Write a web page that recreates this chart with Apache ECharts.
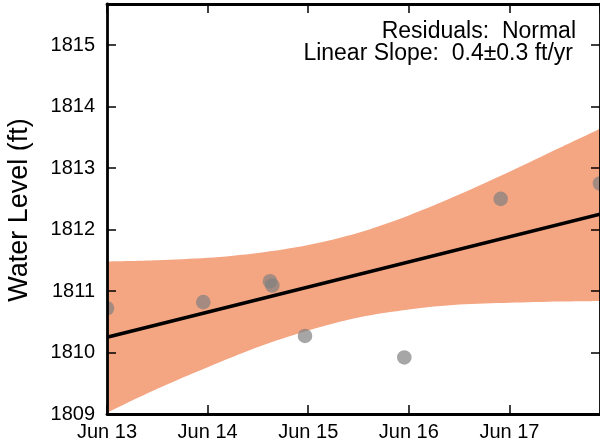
<!DOCTYPE html>
<html>
<head>
<meta charset="utf-8">
<script src="https://cdn.jsdelivr.net/npm/echarts@6/dist/echarts.min.js"></script>
<style>
html,body{margin:0;padding:0;background:#fff;}
#chart{width:600px;height:448px;}
</style>
</head>
<body>
<div id="chart"></div>
<script>
// x values are days since Jun 13 00:00
var xTickLabels = ['Jun 13', 'Jun 14', 'Jun 15', 'Jun 16', 'Jun 17'];
var xMinDay = 0, xMaxDay = 4.9;
var yMin = 1809, yMax = 1815.67;

// observations
var obsDays   = [0.0, 0.957, 1.62, 1.643, 1.968, 2.955, 3.913, 4.9];
var obsLevels = [1810.72, 1810.82, 1811.16, 1811.09, 1810.27, 1809.92, 1812.50, 1812.75];

// linear fit
var fitDays   = [0.0, 4.9];
var fitLevels = [1810.25, 1812.25];

// confidence band
var bandDays  = [0.0, 0.5, 1.0, 1.5, 2.0, 2.5, 3.0, 3.5, 4.0, 4.5, 4.9];
var bandLower = [1809.02, 1809.41, 1809.76, 1810.09, 1810.36, 1810.57, 1810.70, 1810.78, 1810.81, 1810.83, 1810.84];
var bandUpper = [1811.48, 1811.50, 1811.54, 1811.62, 1811.75, 1811.95, 1812.23, 1812.57, 1812.94, 1813.33, 1813.64];

var annotation1 = 'Residuals:  Normal';
var annotation2 = 'Linear Slope:  0.4\u00b10.3 ft/yr';
var yTitle = 'Water Level (ft)';

var FONT = '"Liberation Sans", Arial, Helvetica, sans-serif';
var DAY = 86400000;
var BASE = Date.UTC(2015, 5, 13);
function t(d) { return BASE + d * DAY; }

var lowerData = bandDays.map(function (d, i) { return [t(d), bandLower[i]]; });
var widthData = bandDays.map(function (d, i) { return [t(d), bandUpper[i] - bandLower[i]]; });
var obsData = obsDays.map(function (d, i) { return [t(d), obsLevels[i]]; });
var fitData = fitDays.map(function (d, i) { return [t(d), fitLevels[i]]; });

var chart = echarts.init(document.getElementById('chart'), null, {renderer: 'canvas'});

var tickStyle = {show: true, inside: true, length: 9, lineStyle: {color: '#000', width: 1.5}};
var lineStyleAxis = {show: true, lineStyle: {color: '#000', width: 2.8}};

function xLabel(v) {
  var d = (v - BASE) / DAY;
  var i = Math.round(d);
  return (Math.abs(d - i) < 1e-6 && xTickLabels[i]) ? xTickLabels[i] : '';
}

var xCommon = {
  type: 'time', min: t(xMinDay), max: t(xMaxDay),
  minInterval: DAY, maxInterval: DAY, splitNumber: 5,
  axisLine: lineStyleAxis, axisTick: tickStyle, splitLine: {show: false}, minorTick: {show: false}
};

chart.setOption({
  animation: false,
  useUTC: true,
  backgroundColor: '#fff',
  grid: {left: 107, right: 0, top: 4, bottom: 34, containLabel: false},
  xAxis: [
    Object.assign({}, xCommon, {
      axisLabel: {show: true, margin: 8, color: '#000', fontSize: 20, fontFamily: FONT,
        hideOverlap: false, formatter: xLabel},
      z: 10
    }),
    Object.assign({}, xCommon, {position: 'top', axisLabel: {show: false}, z: 10})
  ],
  yAxis: [{
    type: 'value', min: yMin, max: yMax, interval: 1,
    axisLine: lineStyleAxis, axisTick: tickStyle, splitLine: {show: false},
    axisLabel: {show: true, margin: 12, color: '#000', fontSize: 20, fontFamily: FONT, showMaxLabel: false,
      formatter: function (v) { return Math.abs(v - Math.round(v)) < 1e-6 ? String(Math.round(v)) : ''; }},
    z: 10
  }, {
    type: 'value', position: 'right', min: yMin, max: yMax, interval: 1,
    axisLine: lineStyleAxis, axisTick: tickStyle, splitLine: {show: false},
    axisLabel: {show: false}, z: 10
  }],
  graphic: [
    {type: 'text', right: 24, top: 20.5, z: 20,
      style: {text: annotation1, font: '23px ' + FONT, fill: '#000', textAlign: 'right'}},
    {type: 'text', right: 27, top: 42.5, z: 20,
      style: {text: annotation2, font: '23px ' + FONT, fill: '#000', textAlign: 'right'}},
    {type: 'text', x: 20, y: 210, rotation: Math.PI / 2, z: 20,
      style: {text: yTitle, font: '27px ' + FONT, fill: '#000', textAlign: 'center', textVerticalAlign: 'middle'}}
  ],
  series: [
    {
      type: 'line', data: lowerData, stack: 'band', smooth: 0.3, showSymbol: false, symbol: 'none',
      lineStyle: {opacity: 0, width: 0}, silent: true, z: 1
    },
    {
      type: 'line', data: widthData, stack: 'band', smooth: 0.3, showSymbol: false, symbol: 'none',
      lineStyle: {opacity: 0, width: 0}, areaStyle: {color: '#f4a582', opacity: 1}, silent: true, z: 1
    },
    {
      type: 'custom', data: obsData, clip: true, z: 3,
      renderItem: function (params, api) {
        var p = api.coord([api.value(0), api.value(1)]);
        return {type: 'circle', shape: {cx: p[0], cy: p[1], r: 7.3},
          style: {fill: 'rgba(128,128,128,0.7)'}};
      }
    },
    {
      type: 'line', data: fitData, showSymbol: false, symbol: 'none', z: 4,
      lineStyle: {color: '#000', width: 3.6}
    }
  ]
});
</script>
</body>
</html>
